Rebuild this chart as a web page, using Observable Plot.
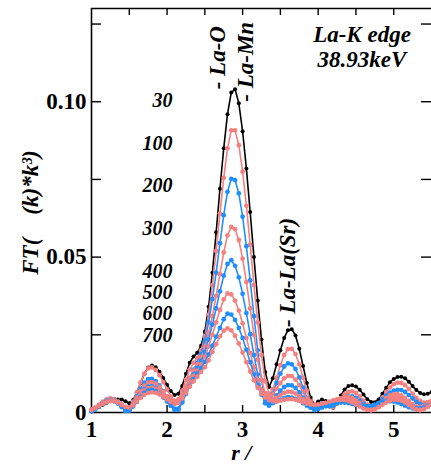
<!DOCTYPE html>
<html><head><meta charset="utf-8">
<script src="https://cdn.jsdelivr.net/npm/d3@7"></script>
<script src="https://cdn.jsdelivr.net/npm/@observablehq/plot@0.6"></script>
<style>html,body{margin:0;padding:0;background:#fff;} svg{display:block}</style>
</head><body><div id="chart"></div>
<script>
// r grid (Å)
const r = [1.00,1.05,1.10,1.15,1.20,1.25,1.30,1.35,1.40,1.45,1.50,1.55,1.60,1.65,1.70,1.75,1.80,1.85,1.90,1.95,2.00,2.05,2.10,2.15,2.20,2.25,2.30,2.35,2.40,2.45,2.50,2.55,2.60,2.65,2.70,2.75,2.80,2.85,2.90,2.95,3.00,3.05,3.10,3.15,3.20,3.25,3.30,3.35,3.40,3.45,3.50,3.55,3.60,3.65,3.70,3.75,3.80,3.85,3.90,3.95,4.00,4.05,4.10,4.15,4.20,4.25,4.30,4.35,4.40,4.45,4.50,4.55,4.60,4.65,4.70,4.75,4.80,4.85,4.90,4.95,5.00,5.05,5.10,5.15,5.20,5.25,5.30,5.35,5.40,5.45,5.50];

const ft30 = [.0010,.0013,.0018,.0025,.0031,.0036,.0040,.0042,.0042,.0036,.0030,
  .0040,.0065,.0095,.0125,.0145,.0151,.0146,.0131,.0111,.0089,.0069,.0056,.0060,
  .0085,.0125,.0160,.0180,.0192,.0215,.0260,.0340,.0450,.0580,.0720,.0850,.0960,.1030,.1040,.0995,.0905,.0785,.0645,.0500,.0360,.0235,.0130,.0082,
  .0110,.0155,.0200,.0240,.0265,.0268,.0248,.0205,.0150,.0095,.0048,.0025,
  .0035,.0042,.0037,.0022,.0015,.0030,.0055,.0074,.0085,.0088,.0084,.0073,.0058,.0043,.0034,.0033,.0042,.0060,.0080,.0097,.0108,.0114,.0115,.0110,.0099,.0085,.0072,.0063,.0059,.0060,.0065];
const ft100 = [.0008,.0015,.0025,.0035,.0042,.0045,.0043,.0035,.0022,.0010,.0012,
  .0035,.0065,.0097,.0125,.0142,.0145,.0137,.0120,.0098,.0074,.0052,.0038,.0042,
  .0070,.0105,.0138,.0160,.0175,.0200,.0245,.0315,.0410,.0520,.0640,.0755,.0850,.0908,.0908,.0860,.0775,.0665,.0540,.0410,.0290,.0185,.0100,.0060,
  .0075,.0112,.0152,.0185,.0204,.0205,.0188,.0155,.0112,.0070,.0036,.0018,
  .0020,.0027,.0027,.0020,.0018,.0028,.0044,.0058,.0066,.0068,.0063,.0052,.0038,.0025,.0017,.0018,.0030,.0048,.0066,.0081,.0091,.0096,.0095,.0088,.0076,.0061,.0047,.0037,.0032,.0033,.0038];
const ft200 = [.0005,.0012,.0022,.0032,.0040,.0043,.0041,.0033,.0020,.0006,.0008,
  .0028,.0052,.0076,.0096,.0107,.0108,.0101,.0087,.0069,.0049,.0029,.0012,.0012,
  .0038,.0075,.0110,.0138,.0160,.0188,.0230,.0290,.0365,.0450,.0545,.0635,.0710,.0752,.0748,.0705,.0630,.0535,.0425,.0310,.0200,.0105,.0030,.0025,
  .0060,.0095,.0125,.0148,.0158,.0155,.0140,.0113,.0080,.0047,.0020,.0008,
  .0012,.0020,.0022,.0020,.0022,.0030,.0040,.0048,.0052,.0052,.0047,.0038,.0028,.0020,.0016,.0020,.0030,.0042,.0054,.0064,.0070,.0073,.0072,.0066,.0056,.0045,.0034,.0027,.0024,.0025,.0030];
const ft300 = [.0008,.0015,.0024,.0033,.0040,.0043,.0041,.0034,.0023,.0012,.0012,
  .0028,.0048,.0068,.0086,.0096,.0098,.0093,.0082,.0067,.0052,.0038,.0028,.0032,
  .0055,.0085,.0112,.0135,.0155,.0178,.0210,.0255,.0310,.0375,.0445,.0515,.0570,.0597,.0590,.0555,.0495,.0420,.0335,.0250,.0170,.0105,.0062,.0048,
  .0058,.0077,.0095,.0110,.0118,.0117,.0106,.0088,.0066,.0045,.0030,.0022,
  .0020,.0021,.0023,.0027,.0033,.0040,.0046,.0050,.0050,.0047,.0040,.0031,.0021,.0013,.0010,.0013,.0022,.0034,.0046,.0055,.0059,.0059,.0055,.0047,.0037,.0027,.0020,.0018,.0021,.0027,.0034];
const ft400 = [.0004,.0011,.0021,.0030,.0037,.0040,.0038,.0030,.0018,.0005,.0007,
  .0022,.0040,.0059,.0074,.0083,.0085,.0080,.0069,.0055,.0039,.0023,.0009,.0010,
  .0035,.0068,.0098,.0123,.0143,.0165,.0195,.0235,.0283,.0335,.0390,.0440,.0478,.0490,.0472,.0435,.0382,.0320,.0252,.0185,.0122,.0068,.0030,.0022,
  .0038,.0055,.0070,.0082,.0088,.0087,.0079,.0065,.0048,.0030,.0016,.0010,
  .0012,.0017,.0022,.0026,.0030,.0033,.0035,.0036,.0035,.0032,.0028,.0023,.0019,.0017,.0018,.0022,.0028,.0034,.0039,.0042,.0043,.0041,.0037,.0031,.0024,.0018,.0014,.0013,.0016,.0021,.0027];
const ft500 = [.0008,.0015,.0023,.0031,.0037,.0040,.0039,.0034,.0025,.0016,.0015,
  .0026,.0042,.0058,.0071,.0078,.0080,.0077,.0069,.0058,.0046,.0035,.0028,.0031,
  .0050,.0075,.0098,.0118,.0135,.0155,.0180,.0212,.0250,.0290,.0330,.0364,.0383,.0380,.0360,.0328,.0287,.0240,.0192,.0145,.0104,.0072,.0052,.0043,
  .0042,.0048,.0056,.0063,.0067,.0066,.0061,.0052,.0042,.0032,.0025,.0022,
  .0022,.0024,.0028,.0033,.0038,.0042,.0045,.0045,.0043,.0038,.0031,.0023,.0015,.0009,.0007,.0010,.0018,.0028,.0038,.0045,.0049,.0049,.0045,.0037,.0027,.0017,.0010,.0008,.0012,.0020,.0028];
const ft600 = [.0004,.0010,.0019,.0028,.0035,.0038,.0036,.0029,.0018,.0006,.0006,
  .0019,.0034,.0050,.0063,.0071,.0073,.0069,.0060,.0048,.0035,.0021,.0009,.0010,
  .0032,.0060,.0085,.0107,.0125,.0143,.0163,.0187,.0215,.0244,.0272,.0300,.0318,.0315,.0298,.0272,.0240,.0202,.0162,.0123,.0088,.0058,.0038,.0030,
  .0030,.0035,.0041,.0046,.0049,.0048,.0044,.0038,.0030,.0022,.0016,.0013,
  .0013,.0016,.0020,.0024,.0028,.0031,.0032,.0032,.0030,.0027,.0024,.0021,.0019,.0019,.0021,.0025,.0029,.0033,.0035,.0036,.0035,.0032,.0027,.0022,.0017,.0013,.0011,.0012,.0015,.0020,.0025];
const ft700 = [.0008,.0014,.0021,.0028,.0034,.0037,.0036,.0032,.0025,.0018,.0016,
  .0023,.0035,.0047,.0057,.0063,.0065,.0063,.0058,.0050,.0042,.0034,.0029,.0031,
  .0045,.0064,.0083,.0100,.0115,.0130,.0146,.0168,.0195,.0220,.0245,.0263,.0271,.0264,.0247,.0222,.0193,.0162,.0132,.0104,.0080,.0061,.0048,.0040,
  .0036,.0036,.0038,.0041,.0043,.0043,.0041,.0038,.0033,.0029,.0026,.0025,
  .0026,.0028,.0031,.0035,.0038,.0040,.0041,.0040,.0037,.0032,.0026,.0019,.0013,.0009,.0008,.0011,.0017,.0025,.0032,.0038,.0041,.0041,.0038,.0032,.0024,.0016,.0010,.0008,.0011,.0018,.0026];

const seriesNames = ["30","100","200","300","400","500","600","700"];
const seriesValues = [ft30, ft100, ft200, ft300, ft400, ft500, ft600, ft700];
const seriesColors = ["#000000","#f48080","#1f8fff","#f48080","#1f8fff","#f48080","#1f8fff","#f48080"];

// label anchor heights (data units) for the temperature labels
const labelY = [0.1004, 0.0865, 0.0730, 0.0591, 0.0452, 0.0385, 0.0317, 0.0248];

const xTicks = [1, 2, 3, 4, 5];
const xSmallTicks = [1.5, 2, 2.5, 3, 3.5, 4, 4.5, 5];
const yTicks = [0, 0.05, 0.10];
const yTickLabels = ["0", "0.05", "0.10"];
const ySmallTicks = [0.025, 0.05, 0.075, 0.10, 0.125];

const bondLabels = [
  {x: 2.667, y: 0.1040, t: "- La-O"},
  {x: 3.045, y: 0.1000, t: "- La-Mn"},
  {x: 3.600, y: 0.0275, t: "- La-La(Sr)"}
];

const W = 431, H = 464, mL = 91, mR = 0, mT = 8, mB = 52;
const xDom = [1, 5.5], yDom = [0, 0.13];
const xPerPx = (xDom[1]-xDom[0]) / (W - mL - mR);
const yPerPx = (yDom[1]-yDom[0]) / (H - mT - mB);

const font = "'Liberation Serif', 'Times New Roman', serif";
const seriesMarks = [];
seriesValues.forEach((vals, i) => {
  const rows = r.map((x, j) => ({x, y: vals[j]}));
  seriesMarks.push(Plot.line(rows, {x: "x", y: "y", stroke: seriesColors[i], strokeWidth: 1.6}));
  seriesMarks.push(Plot.dot(rows, {x: "x", y: "y", r: i === 0 ? 2.0 : 2.4, fill: seriesColors[i], stroke: "none"}));
});

const chart = Plot.plot({
  width: W, height: H,
  marginLeft: mL, marginRight: mR, marginTop: mT, marginBottom: mB,
  x: {domain: xDom, label: null},
  y: {domain: yDom, label: null},
  style: {fontFamily: font, background: "white", color: "black"},
  marks: [
    // frame lines
    Plot.ruleX([1], {stroke: "black", strokeWidth: 1.6}),
    Plot.ruleY([0], {stroke: "black", strokeWidth: 1.6}),
    Plot.ruleY([0.13], {stroke: "black", strokeWidth: 1.6}),
    // inward ticks
    Plot.ruleX(xSmallTicks, {x: d => d, y1: 0, y2: 7*yPerPx, stroke: "black", strokeWidth: 1.4}),
    Plot.ruleX(xSmallTicks, {x: d => d, y1: 0.13 - 7*yPerPx, y2: 0.13, stroke: "black", strokeWidth: 1.4}),
    Plot.ruleY(ySmallTicks, {y: d => d, x1: 1, x2: 1 + 10*xPerPx, stroke: "black", strokeWidth: 1.4}),
    Plot.ruleY(ySmallTicks, {y: d => d, x1: 5.5 - 10*xPerPx, x2: 5.5, stroke: "black", strokeWidth: 1.4}),
    ...seriesMarks,
    // tick labels
    Plot.axisX({ticks: xTicks, tickSize: 0, tickPadding: 8, fontSize: 23, fontWeight: "bold", label: null, tickFormat: d => String(d)}),
    Plot.axisY({ticks: yTicks, tickSize: 0, tickPadding: 5, fontSize: 23, fontWeight: "bold", label: null, tickFormat: d => yTickLabels[yTicks.indexOf(d)]}),
    // temperature labels
    Plot.text(seriesNames, {x: () => 2.072, y: (d, i) => labelY[i], text: d => d, textAnchor: "end", fontSize: 20, fontWeight: "bold", fontStyle: "italic"}),
    // bond annotations
    Plot.text(bondLabels, {x: "x", y: "y", text: "t", rotate: -90, textAnchor: "start", fontSize: 23, fontWeight: "bold", fontStyle: "italic"}),
    // edge annotation
    Plot.text(["La-K edge\n38.93keV"], {x: () => 4.58, y: () => 0.13, text: d => d, lineAnchor: "top", dy: 16, lineHeight: 1.08, fontSize: 23, fontWeight: "bold", fontStyle: "italic"}),
    // axis titles
    Plot.text(["FT(\u2003(k)*k\u00b3)"], {frameAnchor: "left", textAnchor: "middle", dx: -61, dy: 2, rotate: -90, text: d => d, fontSize: 23, fontWeight: "bold", fontStyle: "italic"}),
    Plot.text(["r / "], {x: () => 3.02, frameAnchor: "bottom", dy: 47, text: d => d, fontSize: 22, fontWeight: "bold", fontStyle: "italic"})
  ]
});
document.getElementById("chart").appendChild(chart);
</script>
</body></html>
